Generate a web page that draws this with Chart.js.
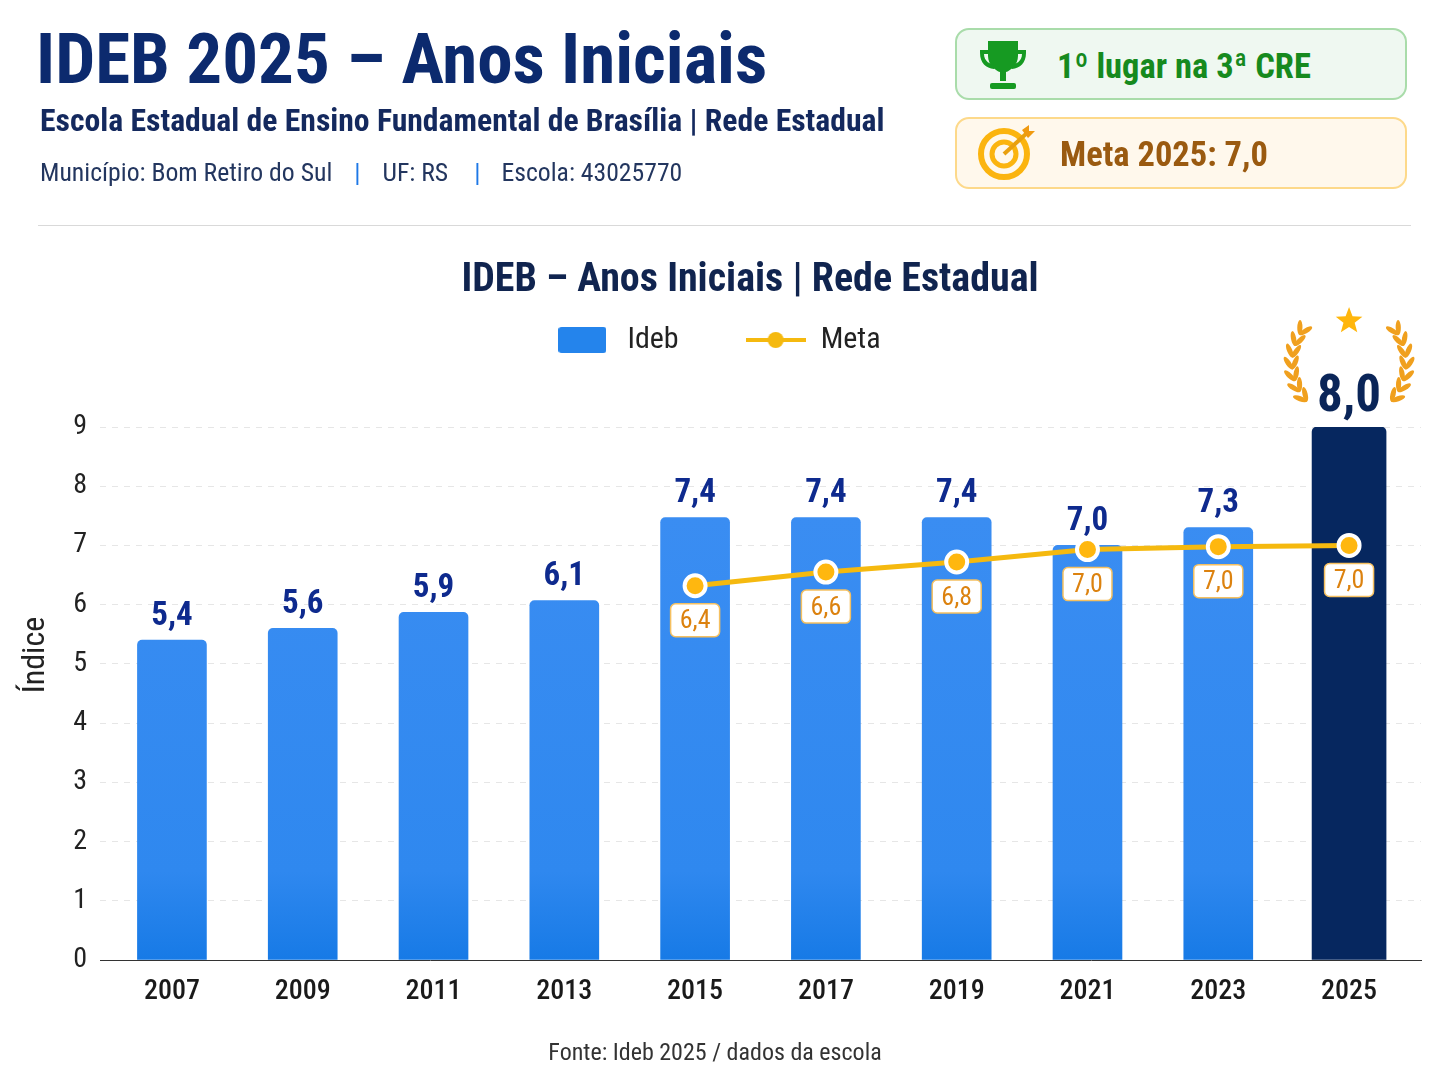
<!DOCTYPE html>
<html lang="pt-BR">
<head>
<meta charset="utf-8">
<title>IDEB 2025 – Anos Iniciais</title>
<script src="https://cdn.jsdelivr.net/npm/chart.js@4/dist/chart.umd.js"></script>
<style>
  body { margin: 0; background: #fff; width: 1448px; height: 1086px; position: relative; overflow: hidden;
         font-family: "Roboto Condensed", Roboto, sans-serif; }
  canvas#chart { position: absolute; left: 0; top: 0; }
  .t { position: absolute; white-space: nowrap; line-height: 1; }
  #titulo { left: 36px; top: 23px; font-size: 71px; font-weight: 700; color: #0c2a6e; }
  #sub { left: 40px; top: 105px; font-size: 31.7px; font-weight: 700; color: #14295e; }
  #info { left: 40px; top: 160px; font-size: 25.7px; color: #23365f; }
  #info b { font-weight: 400; color: #1e78e6; padding: 0 22px; }
  #info b.fim { padding-left: 26px; padding-right: 21px; }
  #linha { position: absolute; left: 38px; top: 225px; width: 1373px; height: 1px; background: #d9d9d9; }
  .card { position: absolute; left: 955px; width: 448px; height: 68px; border-radius: 14px; border: 2.5px solid; }
  #c1 { top: 28px; background: #eff8f1; border-color: #a9dcaa; }
  #c2 { top: 117px; background: #fff8ec; border-color: #fdd98a; }
  #c1t { left: 1057px; top: 49px; font-size: 34.5px; font-weight: 700; color: #168a1e; }
  #c2t { left: 1060px; top: 137px; font-size: 34.5px; font-weight: 700; color: #9a5a10; }
  svg { position: absolute; }
  #graf { left: 0; width: 1500px; text-align: center; top: 258px; font-size: 40px; font-weight: 700; color: #10244f; }
  #fonte { left: 0; width: 1430px; text-align: center; top: 1040px; font-size: 24px; color: #333; }
</style>
</head>
<body>
<canvas id="chart" width="1448" height="1086"></canvas>
<div class="t" id="titulo">IDEB 2025 – Anos Iniciais</div>
<div class="t" id="sub">Escola Estadual de Ensino Fundamental de Brasília | Rede Estadual</div>
<div class="t" id="info">Município: Bom Retiro do Sul<b>|</b>UF: RS<b class="fim">|</b>Escola: 43025770</div>
<div id="linha"></div>
<div class="card" id="c1"></div>
<div class="card" id="c2"></div>
<svg style="left:976px;top:39px" width="54" height="52" viewBox="0 0 54 52">
  <path d="M4 11 H50 V14 C50 24 44 29 36 30 L33 26 C40 26 46 22 46 15 H8 C8 22 14 26 21 26 L18 30 C10 29 4 24 4 14 Z" fill="#169a22"/>
  <path d="M12 2 H42 V17 C42 26 34 32 30 33 V42 H24 V33 C20 32 12 26 12 17 Z" fill="#169a22"/>
  <rect x="14" y="44" width="26" height="6" rx="2" fill="#169a22"/>
</svg>
<svg style="left:976px;top:124px" width="62" height="60" viewBox="0 0 62 60">
  <circle cx="28" cy="30" r="23" fill="none" stroke="#fbb40f" stroke-width="6"/>
  <circle cx="28" cy="30" r="12" fill="none" stroke="#fbb40f" stroke-width="5"/>
  <line x1="28" y1="30" x2="51" y2="9" stroke="#e8a010" stroke-width="4"/>
  <path d="M46 6 L53 1 L53 7 L59 7 L52 14 Z" fill="#f09a10"/>
</svg>
<div class="t" id="c1t">1º lugar na 3ª CRE</div>
<div class="t" id="c2t">Meta 2025: 7,0</div>
<div class="t" id="graf">IDEB – Anos Iniciais | Rede Estadual</div>
<div class="t" id="fonte">Fonte: Ideb 2025 / dados da escola</div>

<script>
const anos = [2007, 2009, 2011, 2013, 2015, 2017, 2019, 2021, 2023, 2025];
// alturas como desenhadas na figura (a barra de 2025 chega a 9, o rotulo diz 8,0)
const ideb = [5.4, 5.6, 5.87, 6.07, 7.47, 7.47, 7.47, 7.0, 7.3, 9.0];
const idebRotulos = ['5,4', '5,6', '5,9', '6,1', '7,4', '7,4', '7,4', '7,0', '7,3', '8,0'];
const meta = [null, null, null, null, 6.32, 6.55, 6.72, 6.93, 6.98, 7.0];
const metaRotulos = ['', '', '', '', '6,4', '6,6', '6,8', '7,0', '7,0', '7,0'];
const yTicks = [0, 1, 2, 3, 4, 5, 6, 7, 8, 9];

const FONTE = '"Roboto Condensed", Roboto, sans-serif';

function pontos(valores) {
  return anos.map((a, i) => ({ x: a, y: valores[i] })).filter(p => p.y !== null);
}

function gradienteAzul(ctx) {
  const area = ctx.chart.chartArea;
  if (!area) return '#2a85ee';
  const g = ctx.chart.ctx.createLinearGradient(0, area.top + 90, 0, area.bottom);
  g.addColorStop(0, '#3a8df2');
  g.addColorStop(0.8, '#2f88ef');
  g.addColorStop(1, '#177ae6');
  return g;
}

// amostras da legenda
function amostraBarra() {
  const c = document.createElement('canvas');
  c.width = 48; c.height = 26;
  const x = c.getContext('2d');
  x.fillStyle = '#2484ec';
  x.beginPath(); x.roundRect(0, 0, 48, 26, 3); x.fill();
  return c;
}
function amostraLinha() {
  const c = document.createElement('canvas');
  c.width = 60; c.height = 26;
  const x = c.getContext('2d');
  x.fillStyle = '#f5b90f';
  x.fillRect(0, 11, 60, 4);
  x.beginPath(); x.arc(30, 13, 8, 0, Math.PI * 2); x.fill();
  return c;
}

function desenhaLouros(c, cx, cy) {
  [1, -1].forEach(lado => {
    c.save();
    c.translate(cx, cy);
    c.scale(lado, 1);
    c.fillStyle = '#f0a01e';
    for (let g = -42; g <= 36; g += 12) {
      const a = Math.PI + g * Math.PI / 180;
      const px = Math.cos(a) * 57, py = Math.sin(a) * 57;
      [-0.5, 0.5].forEach(d => {
        c.save();
        c.translate(px, py);
        c.rotate(a + Math.PI + d);
        c.beginPath();
        c.ellipse(0, -7, 2.6, 7.5, 0, 0, Math.PI * 2);
        c.fill();
        c.restore();
      });
    }
    c.restore();
  });
}

function desenhaEstrela(c, cx, cy, r) {
  c.fillStyle = '#ffb60c';
  c.beginPath();
  for (let i = 0; i < 10; i++) {
    const raio = i % 2 ? r * 0.42 : r;
    const a = -Math.PI / 2 + i * Math.PI / 5;
    c.lineTo(cx + Math.cos(a) * raio, cy + Math.sin(a) * raio);
  }
  c.closePath();
  c.fill();
}

const rotulosPlugin = {
  id: 'rotulos',
  afterLayout(chart) {
    // sobe a legenda, que o layout cola no topo do grafico
    chart.legend.top -= 62;
    chart.legend.bottom -= 62;
  },
  afterDatasetsDraw(chart) {
    const c = chart.ctx;
    const barras = chart.getDatasetMeta(0).data;
    const destaque = chart.getDatasetMeta(1).data[0];
    const linha = chart.getDatasetMeta(2).data;
    c.save();
    c.textAlign = 'center';
    c.textBaseline = 'middle';

    c.font = '700 33px ' + FONTE;
    c.fillStyle = '#0e2a8e';
    barras.forEach((b, i) => c.fillText(idebRotulos[i], b.x, b.y - 23.5));

    c.font = '700 51px ' + FONTE;
    c.fillStyle = '#0a2558';
    c.fillText(idebRotulos[9], destaque.x, destaque.y - 29);
    desenhaLouros(c, destaque.x, destaque.y - 64);
    desenhaEstrela(c, destaque.x, destaque.y - 106, 14);

    const rotulosMeta = metaRotulos.filter(r => r);
    c.font = '400 26px ' + FONTE;
    linha.forEach((p, i) => {
      c.fillStyle = '#fff';
      c.strokeStyle = '#f5c060';
      c.lineWidth = 1.5;
      c.beginPath();
      c.roundRect(p.x - 24.5, p.y + 18, 49, 33, 5);
      c.fill();
      c.stroke();
      c.fillStyle = '#dc820f';
      c.fillText(rotulosMeta[i], p.x, p.y + 36);
    });

    // titulo do eixo y, um pouco acima do centro do grafico
    c.save();
    c.translate(36, 655);
    c.rotate(-Math.PI / 2);
    c.font = '400 32px ' + FONTE;
    c.fillStyle = '#222';
    c.fillText('Índice', 0, 0);
    c.restore();
    c.restore();
  }
};

new Chart(document.getElementById('chart'), {
  type: 'bar',
  data: {
    datasets: [
      {
        label: 'Ideb',
        data: pontos(ideb).slice(0, 9),
        backgroundColor: gradienteAzul,
        borderRadius: 5,
        borderSkipped: 'bottom',
        barThickness: 69,
        grouped: false,
        order: 2
      },
      {
        label: 'Ideb 2025',
        data: pontos(ideb).slice(9),
        backgroundColor: '#06275f',
        borderRadius: 5,
        borderSkipped: 'bottom',
        barThickness: 74,
        grouped: false,
        order: 2
      },
      {
        type: 'line',
        label: 'Meta',
        data: pontos(meta),
        borderColor: '#f5b90f',
        borderWidth: 5,
        tension: 0,
        pointRadius: 10.5,
        pointBackgroundColor: '#ffb70f',
        pointBorderColor: '#fff',
        pointBorderWidth: 4,
        order: 1
      }
    ]
  },
  options: {
    responsive: false,
    animation: false,
    layout: { padding: { top: 258, right: 27, left: 12, bottom: 0 } },
    plugins: {
      tooltip: { enabled: false },
      title: { display: false },
      legend: {
        position: 'top',
        labels: {
          usePointStyle: true,
          pointStyleWidth: 60,
          padding: 67,
          color: '#222',
          font: { family: FONTE, size: 30 },
          generateLabels: () => [
            { text: 'Ideb', pointStyle: amostraBarra(), fontColor: '#222', datasetIndex: 0 },
            { text: 'Meta', pointStyle: amostraLinha(), fontColor: '#222', datasetIndex: 2 }
          ]
        }
      }
    },
    scales: {
      x: {
        type: 'linear',
        bounds: 'data',
        offset: false,
        min: 2005.9,
        max: 2026.1,
        afterFit: s => { s.height = 126; },
        afterBuildTicks: s => { s.ticks = anos.map(a => ({ value: a })); },
        grid: { display: false },
        border: { color: '#333', width: 1 },
        ticks: {
          padding: 7,
          maxRotation: 0,
          autoSkip: false,
          color: '#1a1a1a',
          font: { family: FONTE, size: 28, weight: '500' },
          callback: v => String(v)
        }
      },
      y: {
        min: 0,
        max: 9,
        // espaco entre a legenda e o topo do grafico
        afterFit: s => { s.width = 88; s.paddingTop = 427; },
        afterBuildTicks: s => { s.ticks = yTicks.map(v => ({ value: v })); },
        grid: { color: '#e6e6e6', tickLength: 0, drawTicks: false },
        border: { display: false, dash: [6, 6] },
        ticks: {
          padding: 13,
          color: '#222',
          font: { family: FONTE, size: 28 }
        }
      }
    }
  },
  plugins: [rotulosPlugin]
});
</script>
</body>
</html>
